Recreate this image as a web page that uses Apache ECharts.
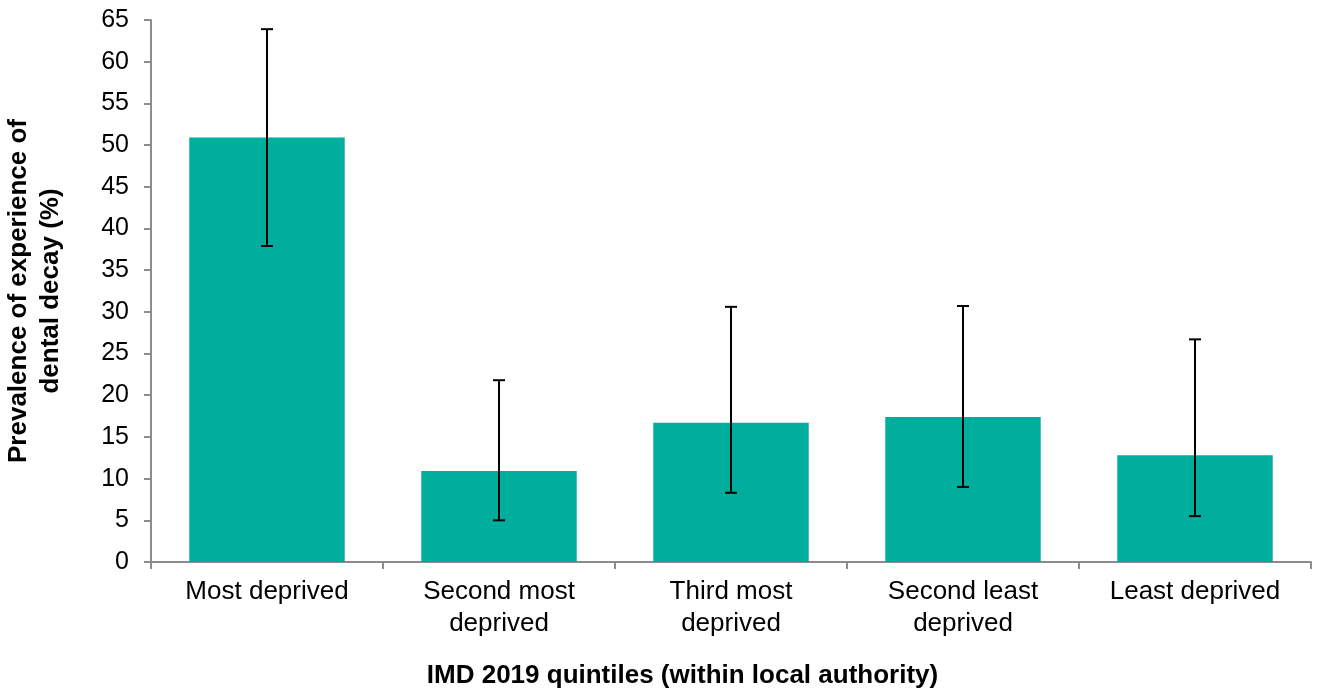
<!DOCTYPE html>
<html>
<head>
<meta charset="utf-8">
<script src="https://cdn.jsdelivr.net/npm/echarts@6/dist/echarts.min.js"></script>
<style>html,body{margin:0;padding:0;background:#fff}#c{width:1320px;height:695px}</style>
</head>
<body>
<div id="c"></div>
<script>
var categories = ['Most deprived', 'Second most\ndeprived', 'Third most\ndeprived', 'Second least\ndeprived', 'Least deprived'];
var values = [50.9, 10.9, 16.7, 17.4, 12.8];
var lowerCI = [37.9, 5.0, 8.3, 9.0, 5.5];
var upperCI = [63.9, 21.8, 30.6, 30.7, 26.7];
var yTicks = [0, 65, 5];

var errData = categories.map(function (c, i) { return [i, lowerCI[i], upperCI[i]]; });
var font = 'Liberation Sans, Arial, sans-serif';
var chart = echarts.init(document.getElementById('c'));
chart.setOption({
  animation: false,
  grid: { left: 151, right: 9, top: 20, bottom: 133, containLabel: false, outerBoundsMode: 'none' },
  xAxis: {
    type: 'category',
    data: categories,
    axisLine: { lineStyle: { color: '#8c8c8c', width: 2 } },
    axisTick: { show: true, length: 7, lineStyle: { color: '#8c8c8c', width: 2 }, alignWithLabel: false },
    axisLabel: { color: '#000', fontSize: 26, fontFamily: font, lineHeight: 32, margin: 14, interval: 0 },
    name: 'IMD 2019 quintiles (within local authority)',
    nameLocation: 'middle',
    nameGap: 101,
    nameTextStyle: { color: '#000', fontSize: 26, fontWeight: 'bold', fontFamily: font, padding: [0, 97, 0, 0] }
  },
  yAxis: {
    type: 'value',
    min: yTicks[0], max: yTicks[1], interval: yTicks[2],
    splitLine: { show: false },
    axisLine: { show: true, lineStyle: { color: '#8c8c8c', width: 2 } },
    axisTick: { show: true, length: 7, lineStyle: { color: '#8c8c8c', width: 2 } },
    axisLabel: { color: '#000', fontSize: 25, fontFamily: font, margin: 22 },
    name: 'Prevalence of experience of\ndental decay (%)',
    nameLocation: 'middle',
    nameGap: 84,
    nameTextStyle: { color: '#000', fontSize: 26, fontWeight: 'bold', fontFamily: font, lineHeight: 32 }
  },
  series: [
    {
      type: 'bar',
      data: values,
      barCategoryGap: '33%',
      itemStyle: { color: '#00ae9e' }
    },
    {
      type: 'custom',
      data: errData,
      z: 10,
      renderItem: function (params, api) {
        var x = api.value(0);
        var lo = api.coord([x, api.value(1)]);
        var hi = api.coord([x, api.value(2)]);
        var cap = 6;
        var st = { stroke: '#000', lineWidth: 2 };
        return {
          type: 'group',
          children: [
            { type: 'line', shape: { x1: lo[0], y1: lo[1], x2: hi[0], y2: hi[1] }, style: st },
            { type: 'line', shape: { x1: lo[0] - cap, y1: lo[1], x2: lo[0] + cap, y2: lo[1] }, style: st },
            { type: 'line', shape: { x1: hi[0] - cap, y1: hi[1], x2: hi[0] + cap, y2: hi[1] }, style: st }
          ]
        };
      }
    }
  ]
});
</script>
</body>
</html>
